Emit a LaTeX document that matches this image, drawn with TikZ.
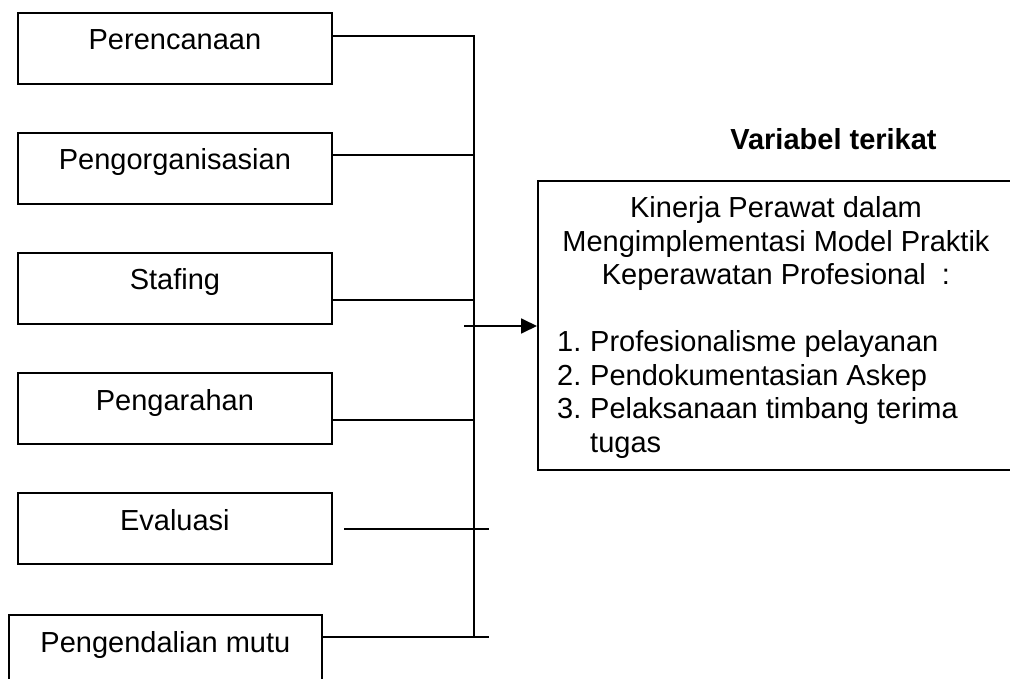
\documentclass[tikz,border=0pt]{standalone}
\usepackage{fontspec}
\setmainfont{Liberation Sans}
\usetikzlibrary{arrows.meta}
\newcommand\bodysize{\fontsize{29pt}{33.5pt}\selectfont}
\newcommand\listitem[1]{\hangindent=33pt\hangafter=1\noindent\makebox[33pt][l]{#1}}
\begin{document}
\begin{tikzpicture}[x=1pt,y=-1pt,
  wire/.style={line width=1.8pt},
  box/.style={draw,line width=1.8pt,rectangle,anchor=north west,inner sep=0pt,
    minimum width=314pt,minimum height=71pt},
  boxtext/.style={anchor=base,yshift=-38pt,inner sep=0pt,font=\bodysize},
  tip/.style={-{Triangle[length=16pt,width=15pt]}}]
\useasboundingbox (0,0) rectangle (1010,679);
\clip (0,0) rectangle (1010,679);

% management functions (left column)
\node[box,label={[boxtext]north:Perencanaan}]      (b1) at (17,12)  {};
\node[box,label={[boxtext]north:Pengorganisasian}] (b2) at (17,132) {};
\node[box,label={[boxtext]north:Stafing}]          (b3) at (17,252) {};
\node[box,label={[boxtext]north:Pengarahan}]       (b4) at (17,372) {};
\node[box,label={[boxtext]north:Evaluasi}]         (b5) at (17,492) {};
\node[box,minimum width=313pt,label={[boxtext]north:Pengendalian mutu}] (b6) at (8,614) {};

% dependent variable
\node[anchor=base,inner sep=0pt,font=\bodysize\bfseries] (var) at (833.5,150) {Variabel terikat};
\node[draw,line width=1.8pt,anchor=north west,inner sep=0pt,
      minimum width=478pt,minimum height=289pt] (res) at (537,180) {};
\node[anchor=base,inner sep=0pt] (head) at (776,218) {%
  \begin{minipage}[t]{460pt}\bodysize\centering
  Kinerja Perawat dalam\\
  Mengimplementasi Model Praktik\\
  Keperawatan Profesional\ \ :
  \end{minipage}};
\node[anchor=base west,inner sep=0pt] (items) at (557,352) {%
  \begin{minipage}[t]{440pt}\bodysize\raggedright
  \listitem{1.}Profesionalisme pelayanan\par
  \listitem{2.}Pendokumentasian Askep\par
  \listitem{3.}Pelaksanaan timbang terima\newline tugas\par
  \end{minipage}};

% connector ends
\coordinate (busx) at (474,0);
\coordinate (tail) at (489,0);
\coordinate (c1) at ([yshift=-24pt]b1.north east);
\coordinate (c2) at ([yshift=-23pt]b2.north east);
\coordinate (c3) at ([yshift=-48pt]b3.north east);
\coordinate (c4) at ([yshift=-48pt]b4.north east);
\coordinate (c6) at ([yshift=-23pt]b6.north east);
\coordinate (evl) at (344,529);
\coordinate (arr) at (464,326);

% collecting line
\draw[wire] (c1) -- (c1 -| busx) -- (c6 -| busx);
\draw[wire] (c2) -- (c2 -| busx);
\draw[wire] (c3) -- (c3 -| busx);
\draw[wire] (c4) -- (c4 -| busx);
\draw[wire] (evl) -- (evl -| tail);
\draw[wire] (c6) -- (c6 -| tail);
\draw[wire,tip] (arr) -- (arr -| res.west);
\end{tikzpicture}
\end{document}
